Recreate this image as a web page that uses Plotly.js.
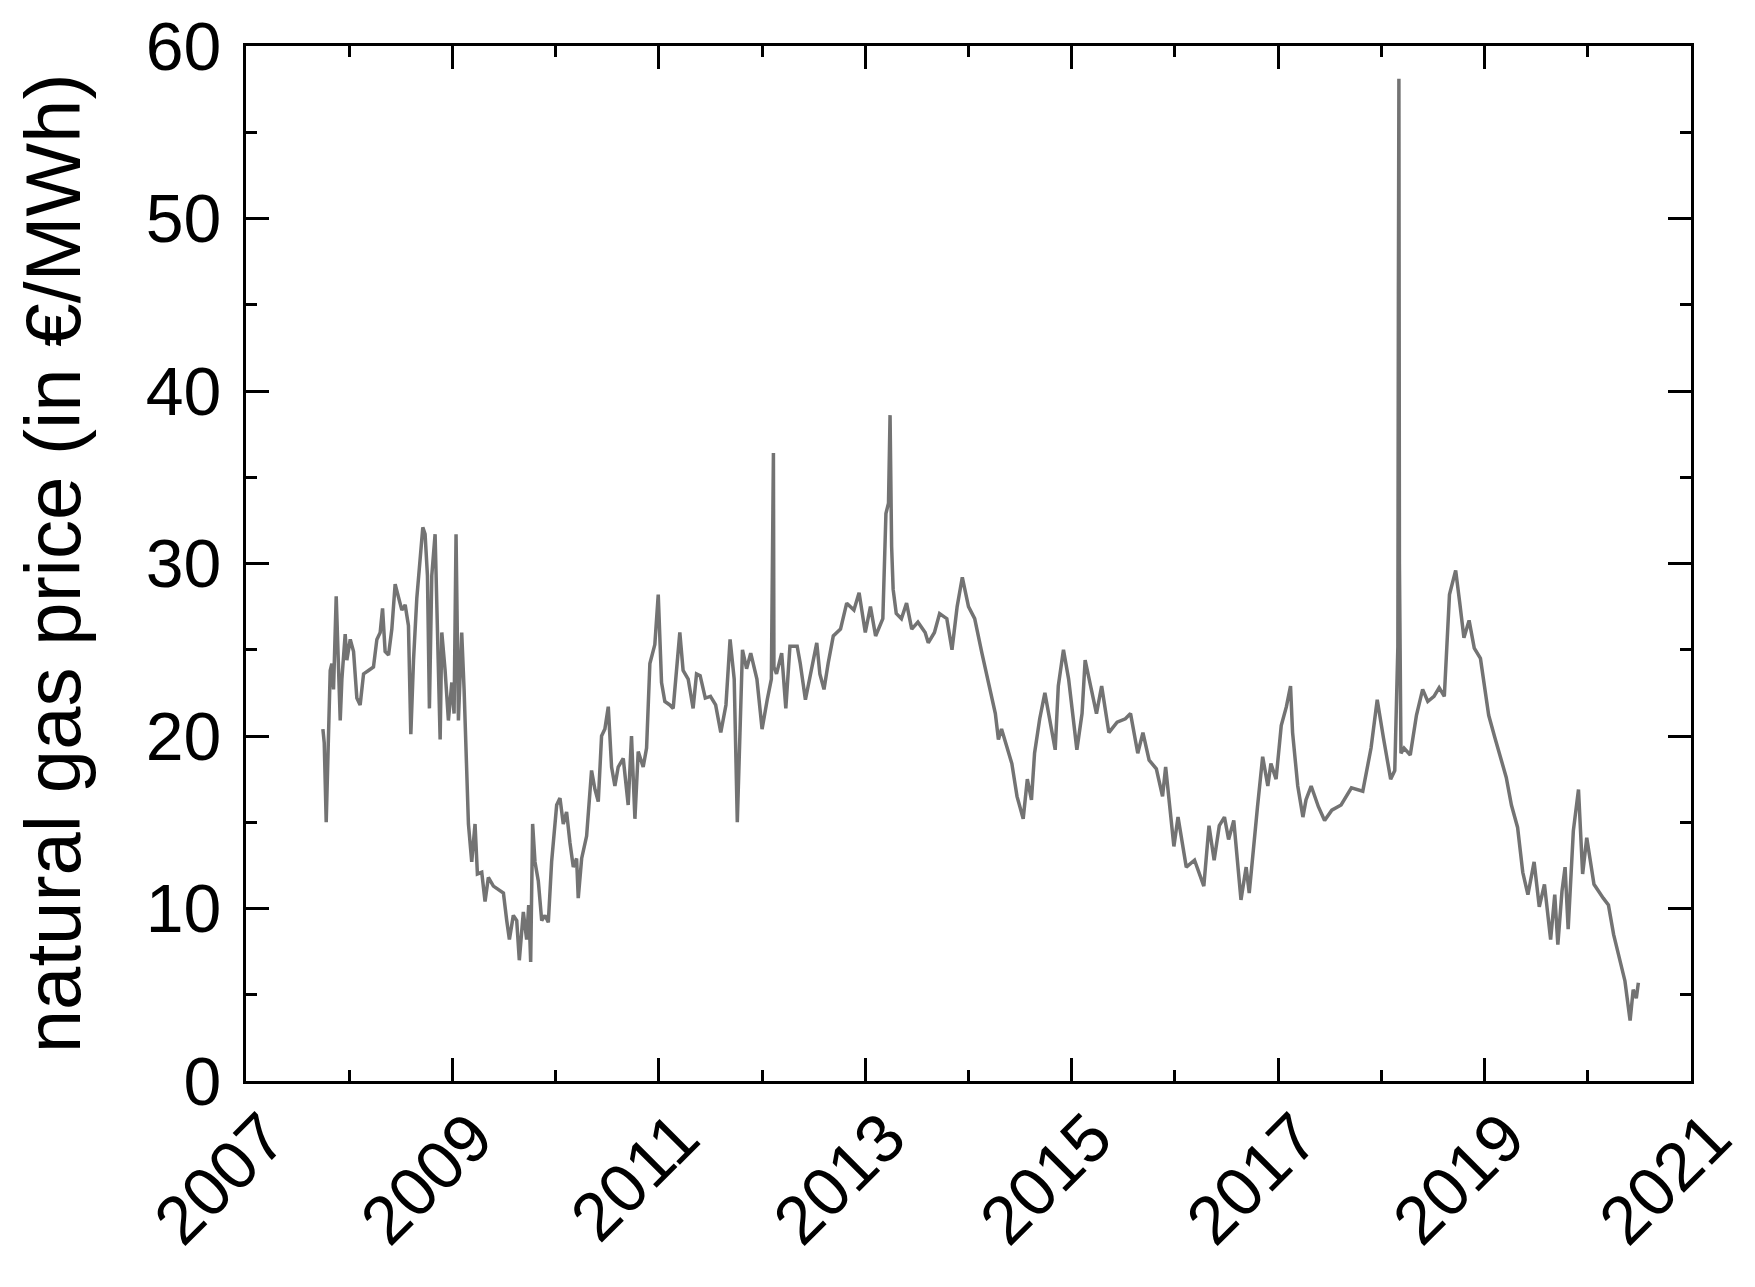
<!DOCTYPE html>
<html>
<head>
<meta charset="utf-8">
<script src="https://cdn.plot.ly/plotly-3.0.1.min.js"></script>
<style>
  html, body { margin: 0; padding: 0; background: #ffffff; }
  #chart { width: 1755px; height: 1287px; }
</style>
</head>
<body>
<div id="chart"></div>
<script>
// Time in decimal years, natural gas price in EUR/MWh
const years = [
  2007.745, 2007.752, 2007.758, 2007.777, 2007.790, 2007.803, 2007.816, 2007.832, 2007.848, 2007.874,
  2007.894, 2007.913, 2007.929, 2007.961, 2007.977, 2008.010, 2008.042, 2008.074, 2008.106, 2008.139,
  2008.187, 2008.235, 2008.268, 2008.300, 2008.323, 2008.348, 2008.381, 2008.413, 2008.445, 2008.477,
  2008.510, 2008.542, 2008.574, 2008.597, 2008.623, 2008.655, 2008.687, 2008.713, 2008.735, 2008.758,
  2008.777, 2008.800, 2008.832, 2008.855, 2008.881, 2008.897, 2008.929, 2008.961, 2008.994, 2009.016,
  2009.035, 2009.058, 2009.090, 2009.113, 2009.139, 2009.155, 2009.187, 2009.219, 2009.242, 2009.284,
  2009.316, 2009.348, 2009.397, 2009.445, 2009.494, 2009.526, 2009.552, 2009.590, 2009.623, 2009.648,
  2009.687, 2009.719, 2009.739, 2009.758, 2009.777, 2009.800, 2009.832, 2009.865, 2009.897, 2009.929,
  2009.961, 2010.010, 2010.042, 2010.074, 2010.106, 2010.139, 2010.171, 2010.203, 2010.219, 2010.252,
  2010.300, 2010.348, 2010.381, 2010.413, 2010.445, 2010.477, 2010.510, 2010.542, 2010.574, 2010.606,
  2010.655, 2010.703, 2010.735, 2010.768, 2010.800, 2010.848, 2010.881, 2010.913, 2010.961, 2010.994,
  2011.026, 2011.058, 2011.106, 2011.139, 2011.171, 2011.203, 2011.235, 2011.284, 2011.332, 2011.365,
  2011.400, 2011.450, 2011.500, 2011.550, 2011.600, 2011.650, 2011.690, 2011.730, 2011.760, 2011.810,
  2011.850, 2011.890, 2011.950, 2012.000, 2012.050, 2012.090, 2012.110, 2012.115, 2012.140, 2012.190,
  2012.230, 2012.270, 2012.340, 2012.370, 2012.420, 2012.480, 2012.530, 2012.560, 2012.600, 2012.640,
  2012.690, 2012.760, 2012.820, 2012.890, 2012.940, 2013.000, 2013.050, 2013.100, 2013.170, 2013.200,
  2013.225, 2013.240, 2013.255, 2013.270, 2013.300, 2013.350, 2013.400, 2013.450, 2013.510, 2013.580,
  2013.610, 2013.670, 2013.720, 2013.790, 2013.840, 2013.890, 2013.940, 2014.000, 2014.060, 2014.130,
  2014.190, 2014.260, 2014.290, 2014.320, 2014.370, 2014.420, 2014.470, 2014.530, 2014.570, 2014.610,
  2014.640, 2014.690, 2014.740, 2014.790, 2014.840, 2014.870, 2014.920, 2014.970, 2015.050, 2015.100,
  2015.130, 2015.190, 2015.240, 2015.290, 2015.360, 2015.440, 2015.520, 2015.570, 2015.640, 2015.690,
  2015.750, 2015.820, 2015.880, 2015.910, 2015.990, 2016.030, 2016.110, 2016.190, 2016.280, 2016.330,
  2016.380, 2016.430, 2016.480, 2016.520, 2016.570, 2016.640, 2016.690, 2016.720, 2016.760, 2016.800,
  2016.850, 2016.900, 2016.930, 2016.980, 2017.030, 2017.080, 2017.120, 2017.140, 2017.190, 2017.240,
  2017.270, 2017.320, 2017.390, 2017.450, 2017.520, 2017.610, 2017.710, 2017.820, 2017.900, 2017.960,
  2018.020, 2018.090, 2018.130, 2018.160, 2018.165, 2018.170, 2018.175, 2018.180, 2018.190, 2018.220,
  2018.280, 2018.340, 2018.400, 2018.450, 2018.510, 2018.560, 2018.610, 2018.660, 2018.720, 2018.760,
  2018.800, 2018.850, 2018.900, 2018.960, 2019.040, 2019.100, 2019.210, 2019.260, 2019.320, 2019.370,
  2019.420, 2019.480, 2019.530, 2019.580, 2019.640, 2019.680, 2019.710, 2019.750, 2019.780, 2019.810,
  2019.860, 2019.910, 2019.950, 2019.990, 2020.060, 2020.150, 2020.200, 2020.250, 2020.310, 2020.360,
  2020.410, 2020.440, 2020.470, 2020.490
];
const price = [
  20.4, 20.1, 19.6, 15.0, 18.4, 20.4, 23.8, 24.2, 22.7, 28.1,
  24.4, 20.9, 23.3, 25.9, 24.4, 25.6, 24.9, 22.2, 21.8, 23.6,
  23.8, 24.0, 25.6, 26.0, 27.4, 24.9, 24.7, 26.2, 28.8, 28.0,
  27.3, 27.6, 26.4, 20.1, 24.4, 28.0, 30.4, 32.1, 31.7, 29.3,
  21.6, 29.3, 31.7, 26.0, 19.8, 26.0, 23.8, 20.9, 23.1, 21.3,
  31.7, 20.9, 26.0, 22.7, 18.2, 14.9, 12.7, 14.9, 12.0, 12.1,
  10.4, 11.8, 11.3, 11.1, 10.9, 9.3, 8.2, 9.6, 9.3, 7.0,
  9.8, 8.2, 10.2, 6.9, 14.9, 12.7, 11.6, 9.3, 9.6, 9.2,
  12.7, 16.0, 16.4, 14.9, 15.6, 13.8, 12.4, 12.9, 10.6, 12.9,
  14.2, 18.0, 16.9, 16.2, 20.0, 20.4, 21.7, 18.2, 17.1, 18.2,
  18.7, 16.0, 20.0, 15.2, 19.1, 18.2, 19.3, 24.2, 25.3, 28.2,
  23.1, 22.0, 21.8, 21.6, 23.6, 26.0, 23.8, 23.3, 21.6, 23.6,
  23.5, 22.2, 22.3, 21.8, 20.2, 21.8, 25.6, 23.3, 15.0, 25.0,
  23.9, 24.8, 23.3, 20.4, 22.1, 23.3, 36.4, 24.0, 23.6, 24.8,
  21.6, 25.2, 25.2, 24.2, 22.1, 23.8, 25.4, 23.6, 22.7, 24.2,
  25.8, 26.2, 27.7, 27.3, 28.3, 26.0, 27.5, 25.8, 26.8, 32.9,
  33.5, 38.6, 31.0, 28.5, 27.1, 26.8, 27.7, 26.2, 26.6, 26.0,
  25.4, 26.0, 27.1, 26.8, 25.0, 27.5, 29.2, 27.5, 26.8, 24.8,
  23.1, 21.3, 19.8, 20.4, 19.4, 18.4, 16.5, 15.2, 17.5, 16.3,
  19.0, 21.0, 22.5, 20.8, 19.2, 22.9, 25.0, 23.3, 19.2, 21.3,
  24.4, 22.7, 21.3, 22.9, 20.2, 20.8, 21.0, 21.3, 19.0, 20.2,
  18.6, 18.1, 16.5, 18.2, 13.6, 15.3, 12.4, 12.8, 11.3, 14.8,
  12.8, 14.8, 15.3, 14.0, 15.1, 10.5, 12.4, 10.9, 13.6, 15.9,
  18.8, 17.1, 18.4, 17.5, 20.6, 21.7, 22.9, 20.2, 17.1, 15.3,
  16.3, 17.1, 15.9, 15.1, 15.7, 16.0, 17.0, 16.8, 19.3, 22.1,
  19.9, 17.5, 18.0, 25.2, 45.6, 58.1, 30.0, 25.0, 19.0, 19.3,
  18.9, 21.2, 22.7, 22.0, 22.3, 22.8, 22.3, 28.2, 29.6, 27.7,
  25.7, 26.7, 25.1, 24.5, 21.2, 19.9, 17.6, 16.0, 14.7, 12.1,
  10.8, 12.7, 10.1, 11.4, 8.2, 10.8, 7.9, 11.0, 12.4, 8.8,
  14.5, 16.9, 12.0, 14.1, 11.4, 10.6, 10.2, 8.5, 7.1, 5.8,
  3.5, 5.3, 4.8, 5.7
];
const yTitle = 'natural gas price (in €/MWh)';

const FONT = '"Liberation Sans", Arial, sans-serif';

const trace = {
  x: years,
  y: price,
  type: 'scatter',
  mode: 'lines',
  line: { color: '#737373', width: 3.5 },
  hoverinfo: 'skip'
};

const axisCommon = {
  showline: true,
  linecolor: '#000000',
  linewidth: 3,
  mirror: 'ticks',
  ticks: 'inside',
  ticklen: 23,
  tickwidth: 3,
  tickcolor: '#000000',
  showgrid: false,
  zeroline: false,
  tickfont: { family: FONT, size: 68, color: '#000000' }
};

const layout = {
  width: 1755,
  height: 1287,
  paper_bgcolor: '#ffffff',
  plot_bgcolor: '#ffffff',
  showlegend: false,
  margin: { l: 246, r: 64, t: 46, b: 206 },
  xaxis: Object.assign({}, axisCommon, {
    range: [2007, 2021],
    tick0: 2007,
    dtick: 2,
    tickformat: 'd',
    tickangle: -45,
    ticklabelshift: 20,
    ticklabelstandoff: -14,
    minor: { dtick: 1, ticks: 'inside', ticklen: 11, tickwidth: 3, tickcolor: '#000000', showgrid: false }
  }),
  yaxis: Object.assign({}, axisCommon, {
    range: [0, 60],
    tick0: 0,
    dtick: 10,
    ticklabelstandoff: 8,
    minor: { dtick: 5, ticks: 'inside', ticklen: 11, tickwidth: 3, tickcolor: '#000000', showgrid: false },
    title: { text: yTitle, font: { family: FONT, size: 78, color: '#000000' }, standoff: 40 }
  })
};

Plotly.newPlot('chart', [trace], layout, { staticPlot: true, displayModeBar: false });
</script>
</body>
</html>
